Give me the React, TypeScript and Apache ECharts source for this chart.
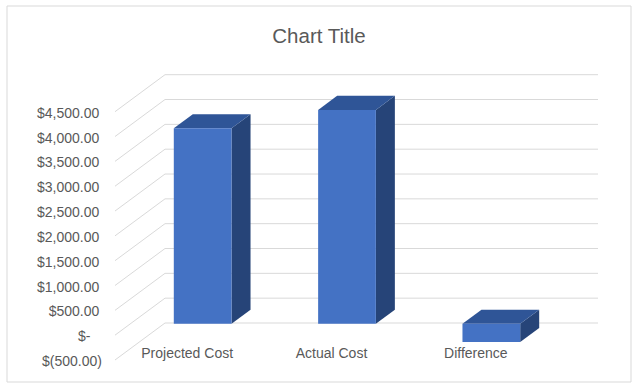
import React, { useEffect, useRef } from "react";
import * as echarts from "echarts";

const categories = ["Projected Cost", "Actual Cost", "Difference"];
const costValues = [3935, 4305, -370];
const yTicks = [-500, 0, 500, 1000, 1500, 2000, 2500, 3000, 3500, 4000, 4500];
const titleText = "Chart Title";

// oblique "3D" depth of the chart's floor/back wall, in pixels
const WALL_DX = 50;
const WALL_DY = -37;
const BAR_FRONT = 0.31; // depth fraction of bar front face
const BAR_DEPTH = 0.38; // depth fraction covered by a bar
const BAR_WIDTH = 0.4; // fraction of category band

const FRONT = "#4472C4";
const TOP = "#2F5597";
const SIDE = "#264478";
const GRID = "#D9D9D9";
const TEXT = "#595959";
const FONT = "'Liberation Sans', Arial, sans-serif";

function money(v: number): string {
  const s = Math.abs(v).toLocaleString("en-US", {
    minimumFractionDigits: 2,
    maximumFractionDigits: 2,
  });
  if (v === 0) return "{z|$-}";
  if (v < 0) return "{n|$(" + s + ")}";
  return "{p|$" + s + "}";
}

export default function App() {
  const ref = useRef<HTMLDivElement>(null);
  useEffect(() => {
    if (!ref.current) return;
    const chart = echarts.init(ref.current, null, { renderer: "svg" });
    const labelStyle = { fontSize: 14, color: TEXT, fontFamily: FONT };
    chart.setOption({
      animation: false,
      backgroundColor: "#fff",
      title: {
        text: titleText,
        left: "center",
        top: 20,
        textStyle: { fontSize: 20.5, fontWeight: "normal", color: TEXT, fontFamily: FONT },
      },
      graphic: [
        {
          type: "rect",
          shape: { x: 7, y: 6, width: 624, height: 376 },
          style: { fill: "none", stroke: GRID, lineWidth: 1 },
          silent: true,
          z: -10,
        },
      ],
      grid: { left: 115, right: 90, top: 111.7, bottom: 30 },
      xAxis: {
        type: "category",
        data: categories,
        axisLine: { show: false },
        axisTick: { show: false },
        splitLine: { show: false },
        axisLabel: { ...labelStyle, margin: -14 },
      },
      yAxis: {
        type: "value",
        min: -500,
        max: 4500,
        interval: 500,
        axisLine: { show: false },
        axisTick: { show: false },
        splitLine: { show: false },
        axisLabel: {
          ...labelStyle,
          margin: 13,
          formatter: (v: number) => money(v),
          rich: {
            p: { ...labelStyle, padding: [2, 2.7, 0, 0] },
            n: { ...labelStyle, padding: [2, 0, 0, 0] },
            z: { ...labelStyle, padding: [2, 11.5, 0, 0] },
          },
        },
      },
      series: [
        {
          type: "custom",
          name: "wall",
          silent: true,
          z: 1,
          data: yTicks.map((t) => [0, t]),
          renderItem: (params: any, api: any) => {
            const cs = params.coordSys;
            const y = api.coord([0, api.value(1)])[1];
            const x0 = cs.x;
            const x1 = cs.x + cs.width;
            return {
              type: "group",
              children: [
                {
                  type: "line",
                  shape: { x1: x0, y1: y, x2: x0 + WALL_DX, y2: y + WALL_DY },
                  style: { stroke: GRID, lineWidth: 1 },
                },
                {
                  type: "line",
                  shape: { x1: x0 + WALL_DX, y1: y + WALL_DY, x2: x1 + WALL_DX, y2: y + WALL_DY },
                  style: { stroke: GRID, lineWidth: 1 },
                },
              ],
            };
          },
        },
        {
          type: "custom",
          name: "Cost",
          z: 2,
          data: costValues.map((v, i) => [i, v]),
          renderItem: (params: any, api: any) => {
            const i = api.value(0);
            const v = api.value(1);
            const band = api.size([1, 0])[0];
            const w = band * BAR_WIDTH;
            const base = api.coord([i, 0]);
            const topPt = api.coord([i, v]);
            const fx = BAR_FRONT * WALL_DX;
            const fy = BAR_FRONT * WALL_DY;
            const dx = BAR_DEPTH * WALL_DX;
            const dy = BAR_DEPTH * WALL_DY;
            const xl = base[0] - w / 2 + fx;
            const xr = xl + w;
            const yTop = Math.min(base[1], topPt[1]) + fy;
            const yBot = Math.max(base[1], topPt[1]) + fy;
            return {
              type: "group",
              children: [
                {
                  type: "polygon",
                  shape: {
                    points: [
                      [xr, yTop],
                      [xr + dx, yTop + dy],
                      [xr + dx, yBot + dy],
                      [xr, yBot],
                    ],
                  },
                  style: { fill: SIDE },
                },
                {
                  type: "polygon",
                  shape: {
                    points: [
                      [xl, yTop],
                      [xl + dx, yTop + dy],
                      [xr + dx, yTop + dy],
                      [xr, yTop],
                    ],
                  },
                  style: { fill: TOP },
                },
                {
                  type: "rect",
                  shape: { x: xl, y: yTop, width: w, height: yBot - yTop },
                  style: { fill: FRONT },
                },
              ],
            };
          },
        },
      ],
    });
    return () => chart.dispose();
  }, []);
  return (
    <div
      ref={ref}
      style={{ position: "fixed", left: 0, top: 0, width: 638, height: 390, background: "#fff" }}
    />
  );
}
